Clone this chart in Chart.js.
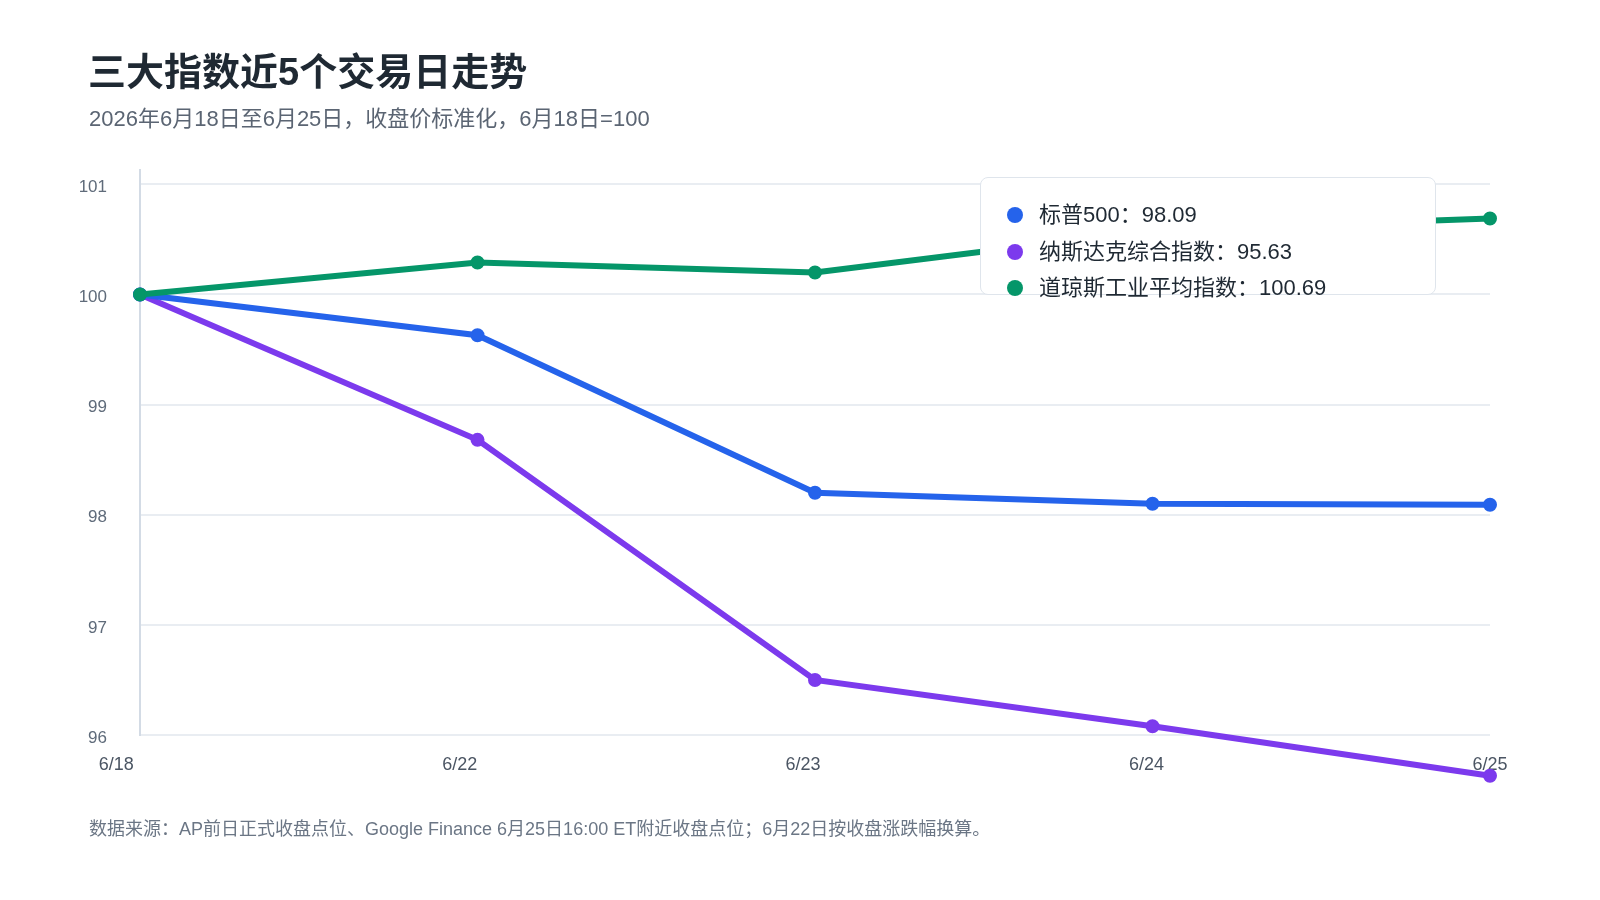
<!DOCTYPE html>
<html lang="zh-CN">
<head>
<meta charset="utf-8">
<title>三大指数近5个交易日走势</title>
<script src="https://cdn.jsdelivr.net/npm/chart.js@4/dist/chart.umd.min.js"></script>
<style>
  html, body { margin: 0; padding: 0; background: #ffffff; }
  body { width: 1600px; height: 900px; position: relative; overflow: hidden;
         font-family: "Liberation Sans", "Noto Sans CJK SC", sans-serif; }
  #titulo { position: absolute; left: 88px; top: 53px; font-size: 38px; line-height: 38px; font-weight: bold; color: #1f2933; }
  #subtitulo { position: absolute; left: 89px; top: 108px; font-size: 22px; line-height: 22px; color: #5b6573; }
  #fuente { position: absolute; left: 89px; top: 820px; font-size: 18px; line-height: 18px; color: #6b7685; }
  #wrap { position: absolute; left: 0; top: 0; width: 1600px; height: 900px; }
  #leyenda { position: absolute; left: 980px; top: 177px; width: 456px; height: 118px;
             background: #ffffff; border: 1px solid #dfe5ec; border-radius: 8px; box-sizing: border-box; }
  .item { position: absolute; left: 26px; font-size: 22px; color: #1f2933; white-space: nowrap; }
  .item i { position: absolute; left: 0; top: 7px; width: 16px; height: 16px; border-radius: 50%; }
  .item span { position: absolute; left: 32px; top: 0; line-height: 30px; }
</style>
</head>
<body>
<div id="wrap"><canvas id="grafica" width="1600" height="900"></canvas></div>
<div id="titulo">三大指数近5个交易日走势</div>
<div id="subtitulo">2026年6月18日至6月25日，收盘价标准化，6月18日=100</div>
<div id="leyenda"></div>
<div id="fuente">数据来源：AP前日正式收盘点位、Google Finance 6月25日16:00 ET附近收盘点位；6月22日按收盘涨跌幅换算。</div>
<script>
// Fechas (eje X)
const fechas = ["6/18", "6/22", "6/23", "6/24", "6/25"];

// Series normalizadas (6/18 = 100)
const sp500 = [100, 99.63, 98.20, 98.10, 98.09];
const nasdaq = [100, 98.68, 96.50, 96.08, 95.63];
const dowJones = [100, 100.29, 100.20, 100.58, 100.69];

// Nombres y colores
const nombres = ["标普500", "纳斯达克综合指数", "道琼斯工业平均指数"];
const colores = ["#2563eb", "#7c3aed", "#059669"];

// Marcas del eje Y
const ticksY = [96, 97, 98, 99, 100, 101];

const series = [sp500, nasdaq, dowJones];
const ordenes = [1, 2, 0]; // el Dow se dibuja encima

// Leyenda en HTML con el ultimo valor de cada serie
const leyenda = document.getElementById("leyenda");
nombres.forEach((nombre, i) => {
  const item = document.createElement("div");
  item.className = "item";
  item.style.top = (22 + i * 36.5) + "px";
  const ultimo = series[i][series[i].length - 1];
  item.innerHTML = `<i style="background:${colores[i]}"></i><span>${nombre}：${ultimo.toFixed(2)}</span>`;
  leyenda.appendChild(item);
});

// Los puntos fuera del area (nasdaq 6/25) no se dibujan solos: los pintamos aqui
const puntosFuera = {
  id: "puntosFuera",
  afterDatasetsDraw(chart) {
    const area = chart.chartArea;
    chart.getSortedVisibleDatasetMetas().forEach(meta => {
      meta.data.forEach(p => {
        if (p.y > area.bottom || p.y < area.top) p.draw(chart.ctx);
      });
    });
  }
};

const ctx = document.getElementById("grafica").getContext("2d");

new Chart(ctx, {
  type: "line",
  data: {
    labels: fechas,
    datasets: series.map((datos, i) => ({
      label: nombres[i],
      data: datos,
      borderColor: colores[i],
      backgroundColor: colores[i],
      borderWidth: 6,
      pointRadius: 6,
      pointBorderWidth: 2,
      pointBackgroundColor: colores[i],
      pointBorderColor: colores[i],
      tension: 0,
      clip: false,
      order: ordenes[i],
      xAxisID: "x",
      yAxisID: "y"
    }))
  },
  plugins: [puntosFuera],
  options: {
    responsive: false,
    animation: false,
    layout: { padding: { left: 0, right: 110, top: 170, bottom: 105 } },
    plugins: {
      legend: { display: false },
      tooltip: { enabled: false }
    },
    scales: {
      x: {
        type: "category",
        display: false,
        offset: false
      },
      // eje solo para las etiquetas de fecha (algo mas espaciadas que los puntos)
      x2: {
        type: "linear",
        position: "bottom",
        min: 0.0693,
        max: 4,
        grid: { display: false, drawTicks: false },
        border: { display: false },
        afterBuildTicks: (scale) => {
          scale.ticks = fechas.map((f, i) => ({ value: i }));
        },
        afterFit: (scale) => { scale.height = 60; },
        ticks: {
          autoSkip: false,
          maxRotation: 0,
          padding: 19,
          color: "#4b5563",
          font: { family: "'Liberation Sans', 'Noto Sans CJK SC'", size: 18 },
          callback: (v) => fechas[v]
        }
      },
      y: {
        min: 96,
        max: 101.13,
        afterBuildTicks: (scale) => {
          scale.ticks = ticksY.map(v => ({ value: v }));
        },
        afterFit: (scale) => { scale.width = 140; },
        grid: { color: "#e9edf2", lineWidth: 2, drawTicks: false },
        border: { display: true, color: "#d3dbe5", width: 2 },
        ticks: {
          padding: 33,
          labelOffset: 3,
          color: "#5f6b7a",
          font: { family: "'Liberation Sans', 'Noto Sans CJK SC'", size: 17 }
        }
      }
    }
  }
});
</script>
</body>
</html>
